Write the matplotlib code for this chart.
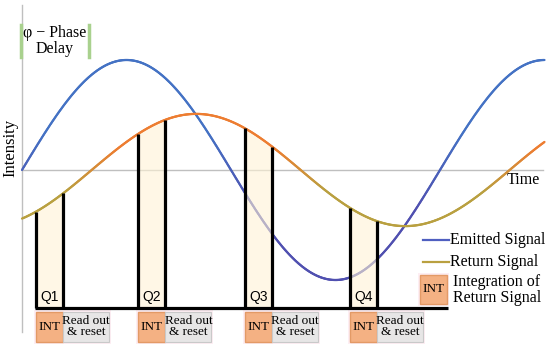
import numpy as np
import matplotlib.pyplot as plt
from matplotlib.collections import LineCollection
from matplotlib.colors import to_rgb
from matplotlib.patches import Rectangle

# signal data (t in radians, intensity in arbitrary units)
t_end = 2.5 * np.pi
emit_amp = 1.0
return_amp = 0.51
phase_delay = np.pi / 3
gate_starts = [0.21, 1.745, 3.35, 4.93]
gate_width = 0.41
readout_width = 0.69
gate_labels = ["Q1", "Q2", "Q3", "Q4"]
baseline = -1.255

# pixel <-> data scale (figure 550x345 px)
PX_X = 418 / (2 * np.pi)
PX_Y = 110.0
X0, Y0 = 22, 170


def px(x, y):
    return (x - X0) / PX_X, (Y0 - y) / PX_Y


def blend(c1, c2, f):
    c1, c2 = np.array(to_rgb(c1)), np.array(to_rgb(c2))
    return c1[None, :] * (1 - f[:, None]) + c2[None, :] * f[:, None]


def grad_line(ax, t, v, c_up, c_down, spread, lw, z):
    pts = np.column_stack([t, v]).reshape(-1, 1, 2)
    segs = np.concatenate([pts[:-1], pts[1:]], axis=1)
    vm = (v[:-1] + v[1:]) / 2
    f = np.clip(0.5 - vm / (2 * spread), 0, 1)
    lc = LineCollection(segs, colors=blend(c_up, c_down, f), linewidths=lw,
                        zorder=z, capstyle="round")
    ax.add_collection(lc)


fig = plt.figure(figsize=(5.5, 3.45), dpi=100)
ax = fig.add_axes([0, 0, 1, 1])
xl, yt = px(0, 0)
xr, yb = px(550, 345)
ax.set_xlim(xl, xr)
ax.set_ylim(yb, yt)
ax.axis("off")

serif = "Liberation Serif"
sans = "Liberation Sans"

# axes lines
ax.plot([0, px(543, 0)[0]], [0, 0], color="#bfbfbf", lw=1, zorder=1)
ax.plot([0, 0], [px(0, 5)[1], px(0, 332)[1]], color="#bfbfbf", lw=1, zorder=1)

t = np.linspace(0, t_end, 600)
emitted = emit_amp * np.sin(t)
returned = return_amp * np.sin(t - phase_delay)

grad_line(ax, t, emitted, "#4472c4", "#5050b0", 0.35, 1.6, 2)
grad_line(ax, t, returned, "#ed7d31", "#b9a040", 0.2, 1.6, 4)

# integration gates
for s, lab in zip(gate_starts, gate_labels):
    tg = np.linspace(s, s + gate_width, 50)
    rg = return_amp * np.sin(tg - phase_delay)
    ax.fill_between(tg, baseline, rg, color="#fff3d6", alpha=0.6, lw=0, zorder=3)
    for edge in (s, s + gate_width):
        ax.plot([edge, edge], [baseline, return_amp * np.sin(edge - phase_delay)],
                color="black", lw=2.3, zorder=5, solid_capstyle="butt")
    ax.text(s + gate_width / 2, px(0, 297)[1], lab, family=sans, fontsize=10,
            ha="center", va="center", zorder=6)

    # bottom INT / read out boxes
    top, bot = px(0, 312)[1], px(0, 342)[1]
    pad = 2 / PX_X
    ax.add_patch(Rectangle((s - pad, bot - 2 / PX_Y), gate_width + readout_width + 2 * pad,
                           top - bot + 4 / PX_Y, facecolor="#fdeef3", edgecolor="none", zorder=1))
    ax.add_patch(Rectangle((s, bot), gate_width, top - bot, facecolor="#f4b183",
                           edgecolor="#e39a66", lw=1, zorder=2))
    ax.add_patch(Rectangle((s + gate_width, bot), readout_width, top - bot,
                           facecolor="#e7e6e6", edgecolor="#c9c9c9", lw=0.8, zorder=2))
    ax.text(s + gate_width / 2, (top + bot) / 2, "INT", family=serif, fontsize=9.5,
            ha="center", va="center", zorder=3)
    ax.text(s + gate_width + readout_width / 2, (top + bot) / 2 + 0.5 / PX_Y, "Read out\n& reset",
            family=serif, fontsize=9.5, ha="center", va="center", linespacing=0.92, zorder=3)

ax.plot([gate_starts[0] - 0.02, px(448, 0)[0]], [baseline, baseline], color="black",
        lw=2.3, zorder=5, solid_capstyle="butt")

# labels
ax.text(*px(10, 148), "Intensity", family=serif, fontsize=12, rotation=90,
        ha="center", va="center")
ax.text(*px(523, 180), "Time", family=serif, fontsize=11.5, ha="center", va="center")
ax.text(*px(55, 41), "\u03c6 \u2212 Phase\nDelay", family=serif, fontsize=11.5,
        ha="center", va="center", linespacing=1.05)
for gx in (21, 89):
    ax.plot([px(gx, 0)[0]] * 2, [px(0, 25)[1], px(0, 57)[1]], color="#a9d18e", lw=2.5)

# legend
ax.plot([px(423, 0)[0], px(449, 0)[0]], [px(0, 240)[1]] * 2, color="#4f5fc0", lw=1.6)
ax.text(*px(450, 240), "Emitted Signal", family=serif, fontsize=11.5, ha="left", va="center")
ax.plot([px(423, 0)[0], px(449, 0)[0]], [px(0, 262)[1]] * 2, color="#b9a040", lw=1.6)
ax.text(*px(450, 262), "Return Signal", family=serif, fontsize=11.5, ha="left", va="center")
bx0, by0 = px(420, 304)
bx1, by1 = px(447, 275)
ax.add_patch(Rectangle((bx0 - 2 / PX_X, by0 - 2 / PX_Y), bx1 - bx0 + 4 / PX_X, by1 - by0 + 4 / PX_Y,
                       facecolor="#fdeef3", edgecolor="none"))
ax.add_patch(Rectangle((bx0, by0), bx1 - bx0, by1 - by0, facecolor="#f4b183",
                       edgecolor="#e39a66", lw=1))
ax.text((bx0 + bx1) / 2, (by0 + by1) / 2, "INT", family=serif, fontsize=9.5,
        ha="center", va="center")
ax.text(*px(453, 290), "Integration of\nReturn Signal", family=serif, fontsize=11.5,
        ha="left", va="center", linespacing=0.95)

fig.savefig("out.png", dpi=100)
